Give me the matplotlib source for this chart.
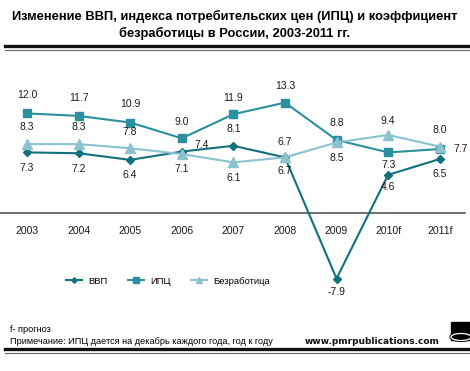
import matplotlib
matplotlib.use("Agg")
from matplotlib import pyplot as plt
from matplotlib.patches import Ellipse, Rectangle
from matplotlib.lines import Line2D

plt.rcParams["font.family"] = ["Liberation Sans", "DejaVu Sans"]

years = ["2003", "2004", "2005", "2006", "2007", "2008", "2009", "2010f", "2011f"]
gdp = [7.3, 7.2, 6.4, 7.4, 8.1, 6.7, -7.9, 4.6, 6.5]
cpi = [12.0, 11.7, 10.9, 9.0, 11.9, 13.3, 8.8, 7.3, 7.7]
unemployment = [8.3, 8.3, 7.8, 7.1, 6.1, 6.7, 8.5, 9.4, 8.0]

series_names = ["ВВП", "ИПЦ", "Безработица"]
title = "Изменение ВВП, индекса потребительских цен (ИПЦ) и коэффициент\nбезработицы в России, 2003-2011 гг."
note_forecast = "f- прогноз"
note_cpi = "Примечание: ИПЦ дается на декабрь каждого года, год к году"
source = "www.pmrpublications.com"

# label offsets in points (dx, dy) for each point
gdp_off = [(0, -11), (0, -11), (0, -11), (9, 5), (0, 12), (0, -10), (0, -10), (0, -9), (0, -11)]
cpi_off = [(0, 13), (0, 13), (0, 13), (0, 12), (0, 12), (0, 12), (0, 12), (0, -9), (10, 0)]
une_off = [(0, 12), (0, 12), (0, 12), (0, -11), (0, -11), (0, 11), (0, -11), (0, 10), (0, 12)]

colors = ["#12707f", "#2b8f9d", "#8bc2cf"]
markers = ["D", "s", "^"]
msizes = [4, 6, 6.5]

W, H = 470, 371
fig = plt.figure(figsize=(W / 100, H / 100), dpi=100)

# axes placed in pixel terms
top_px, bot_px = 90, 290
ax = fig.add_axes([0, 1 - bot_px / H, 465 / W, (bot_px - top_px) / H])
ax.set_xlim(-0.523, 8.49)
scale = 8.3
ax.set_ylim(-(bot_px - 213) / scale, (213 - top_px) / scale)

for s in ["top", "right", "left"]:
    ax.spines[s].set_visible(False)
ax.spines["bottom"].set_position(("data", 0))
ax.spines["bottom"].set_color("#555555")
ax.spines["bottom"].set_linewidth(1.2)
ax.patch.set_visible(False)

x = list(range(len(years)))
for vals, offs, c, m, ms, name in zip([gdp, cpi, unemployment], [gdp_off, cpi_off, une_off],
                                      colors, markers, msizes, series_names):
    ax.plot(x, vals, color=c, marker=m, markersize=ms, linewidth=1.5, label=name, zorder=3)
    for xi, v, (dx, dy) in zip(x, vals, offs):
        ha = "left" if dx > 5 else "center"
        ax.annotate(f"{v:.1f}", (xi, v), xytext=(dx, dy), textcoords="offset points",
                    ha=ha, va="center", fontsize=7.5, color="#1a1a1a", zorder=4)

ax.set_xticks(x)
ax.set_xticklabels(years)
ax.tick_params(axis="x", length=0, pad=9, labelsize=7.5, labelcolor="#1a1a1a")
ax.set_yticks([])

leg = fig.legend(loc="center", bbox_to_anchor=(168 / W, 1 - 281 / H), ncol=3, frameon=False,
                 fontsize=6.8, handlelength=1.7, columnspacing=2.2, handletextpad=0.6,
                 markerscale=0.7)

fig.text(0.5, 1 - 25 / H, title, ha="center", va="center", fontsize=9.3, fontweight="bold",
         linespacing=1.45)

# double rules
fig.add_artist(Line2D([5 / W, 1], [1 - 45.5 / H] * 2, color="#111111", linewidth=2.4))
fig.add_artist(Line2D([5 / W, 1], [1 - 50 / H] * 2, color="#666666", linewidth=0.8))
fig.add_artist(Line2D([5 / W, 1], [1 - 349 / H] * 2, color="#111111", linewidth=2.4))
fig.add_artist(Line2D([5 / W, 1], [1 - 353 / H] * 2, color="#666666", linewidth=0.8))

fig.text(10 / W, 1 - 329 / H, note_forecast, ha="left", va="center", fontsize=6.6,
         family=["Liberation Sans Narrow", "Liberation Sans"])
fig.text(10 / W, 1 - 341 / H, note_cpi, ha="left", va="center", fontsize=6.6,
         family=["Liberation Sans Narrow", "Liberation Sans"])
fig.text(440 / W, 1 - 342 / H, source, ha="right", va="center", fontsize=6.5,
         fontweight="bold", family=["DejaVu Sans"], color="#111111")

# logo
fig.add_artist(Rectangle((451 / W, 1 - 340 / H), 19 / W, 18 / H, color="black"))
fig.add_artist(Ellipse((461 / W, 1 - 337 / H), 20 / W, 7 / H, facecolor="none",
                       edgecolor="black", linewidth=2.2))
fig.add_artist(Ellipse((461 / W, 1 - 337 / H), 20 / W, 7 / H, facecolor="none",
                       edgecolor="white", linewidth=0.9))

fig.savefig("out.png", dpi=100)
